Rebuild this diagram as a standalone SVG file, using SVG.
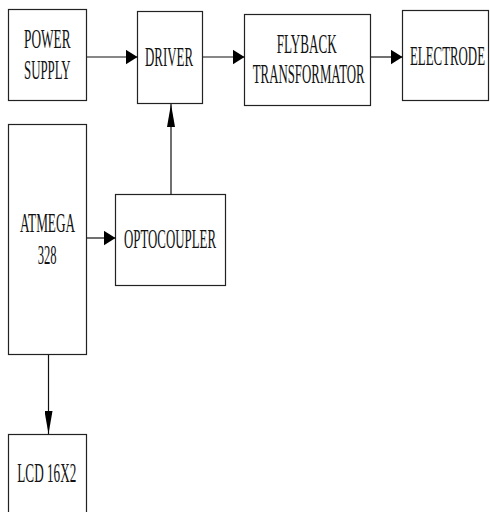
<svg xmlns="http://www.w3.org/2000/svg" width="490" height="512" viewBox="0 0 490 512">
<style>
.box{fill:#fff;stroke:#222;stroke-width:1.2}
.t{font-family:"Liberation Serif","Times New Roman",serif;font-size:27px;fill:#111}
.c{fill:none;stroke:#111;stroke-width:1.2}
</style>
<defs>
<marker id="ah" markerUnits="userSpaceOnUse" markerWidth="12" markerHeight="15" refX="12" refY="7.5" orient="auto"><path d="M0,0 L12,7.5 L0,15 z" fill="#000"/></marker>
<marker id="av" markerUnits="userSpaceOnUse" markerWidth="23" markerHeight="8" refX="23" refY="4" orient="auto"><path d="M0,0 L23,4 L0,8 z" fill="#000"/></marker>
</defs>
<rect width="490" height="512" fill="#fff"/>
<g id="power-supply"><rect class="box" x="8.5" y="9.5" width="78" height="91"/>
<text class="t" x="24" y="47.5" textLength="46.5" lengthAdjust="spacingAndGlyphs">POWER</text>
<text class="t" x="24" y="78.5" textLength="46.5" lengthAdjust="spacingAndGlyphs">SUPPLY</text></g>
<g id="driver"><rect class="box" x="137.5" y="11.5" width="65" height="92"/>
<text class="t" x="145" y="65.5" textLength="48" lengthAdjust="spacingAndGlyphs">DRIVER</text></g>
<g id="flyback"><rect class="box" x="244.5" y="14.5" width="126" height="91"/>
<text class="t" x="276.7" y="52.5" textLength="60" lengthAdjust="spacingAndGlyphs">FLYBACK</text>
<text class="t" x="252.7" y="83" textLength="112" lengthAdjust="spacingAndGlyphs">TRANSFORMATOR</text></g>
<g id="electrode"><rect class="box" x="402.5" y="10.5" width="86" height="90"/>
<text class="t" x="410" y="64.5" textLength="75" lengthAdjust="spacingAndGlyphs">ELECTRODE</text></g>
<g id="atmega"><rect class="box" x="8.5" y="124.5" width="78" height="230"/>
<text class="t" x="20" y="232" textLength="55" lengthAdjust="spacingAndGlyphs">ATMEGA</text>
<text class="t" x="37.7" y="264" textLength="19" lengthAdjust="spacingAndGlyphs">328</text></g>
<g id="optocoupler"><rect class="box" x="115.5" y="194.5" width="110" height="91"/>
<text class="t" x="124" y="247.5" textLength="92" lengthAdjust="spacingAndGlyphs">OPTOCOUPLER</text></g>
<g id="lcd"><rect class="box" x="8.5" y="434.5" width="78" height="90"/>
<text class="t" x="17.3" y="481.5" textLength="59" lengthAdjust="spacingAndGlyphs">LCD 16X2</text></g>
<g id="connectors">
<path class="c" d="M87,57 H137.5" marker-end="url(#ah)"/>
<path class="c" d="M203,57 H244.5" marker-end="url(#ah)"/>
<path class="c" d="M371,57 H402.5" marker-end="url(#ah)"/>
<path class="c" d="M87,238 H115.5" marker-end="url(#ah)"/>
<path class="c" d="M171,194.5 V104" marker-end="url(#av)"/>
<path class="c" d="M48.5,355 V434" marker-end="url(#av)"/>
</g>
</svg>
